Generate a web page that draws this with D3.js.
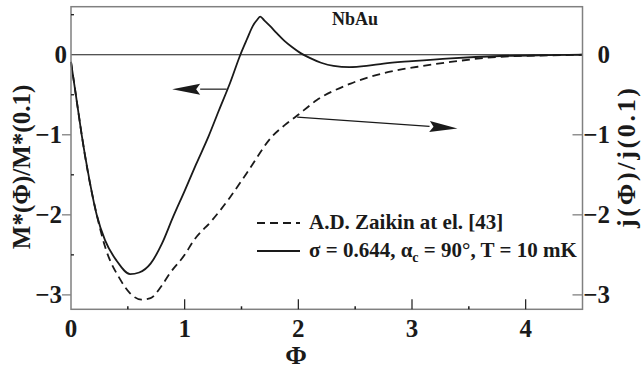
<!DOCTYPE html>
<html>
<head>
<meta charset="utf-8">
<script src="https://cdn.jsdelivr.net/npm/d3@7"></script>
<style>
  #chart text { font-family: "Liberation Serif"; }
</style>
</head>
<body style="margin:0">
<svg id="chart" width="643" height="371" style="font-family: 'Liberation Serif'"></svg>
<script>
// Flux values and normalized curves
const phiM = [0, 0.03, 0.06, 0.094, 0.15, 0.226, 0.3, 0.4, 0.52, 0.6, 0.7, 0.8, 0.9, 1.0, 1.1, 1.21, 1.3, 1.4, 1.49, 1.55, 1.6, 1.64, 1.665, 1.7, 1.75, 1.81, 1.88, 1.95, 2.02, 2.1, 2.2, 2.31, 2.45, 2.6, 2.75, 3.0, 3.34, 3.78, 4.2, 4.5];
const mStar = [-0.09, -0.38, -0.67, -1.0, -1.47, -2.0, -2.32, -2.57, -2.74, -2.72, -2.61, -2.36, -2.02, -1.7, -1.37, -1.02, -0.7, -0.35, 0.0, 0.2, 0.36, 0.44, 0.475, 0.43, 0.36, 0.27, 0.17, 0.09, 0.02, -0.04, -0.1, -0.14, -0.155, -0.14, -0.11, -0.08, -0.045, -0.016, -0.005, 0.0];

const phiJ = [0, 0.03, 0.06, 0.094, 0.15, 0.23, 0.3, 0.43, 0.52, 0.62, 0.7, 0.8, 0.87, 1.0, 1.08, 1.24, 1.4, 1.55, 1.77, 1.88, 1.99, 2.16, 2.46, 2.75, 3.05, 3.34, 3.78, 4.2, 4.5];
const jVal = [-0.09, -0.38, -0.67, -1.0, -1.48, -2.02, -2.4, -2.8, -2.98, -3.06, -3.04, -2.88, -2.73, -2.5, -2.32, -2.07, -1.78, -1.47, -1.02, -0.88, -0.76, -0.57, -0.36, -0.23, -0.15, -0.09, -0.025, -0.008, 0.0];

const xTicks = [0, 1, 2, 3, 4];
const xMinor = [0.5, 1.5, 2.5, 3.5];
const yTicks = [0, -1, -2, -3];
const yMinor = [0.5, -0.5, -1.5, -2.5];

const legendLabels = ["A.D. Zaikin at el. [43]", "σ = 0.644, α", "c", " = 90°, T = 10 mK"];

// Annotation arrows: [from, to] in data units
const arrowLeft = [[1.37, -0.43], [0.89, -0.43]];
const arrowRight = [[1.99, -0.78], [3.40, -0.92]];

const svg = d3.select("#chart");
const x = d3.scaleLinear().domain([0, 4.5]).range([71, 582.5]);
const y = d3.scaleLinear().domain([-3.18, 0.6]).range([309.3, 6.7]);

const frame = "#808080";
const ink = "#1a1a1a";

function label(sel, size) {
  return sel.attr("font-size", size).attr("font-weight", "bold")
    .attr("fill", ink).style("font-family", '"Liberation Serif"');
}

// zero line
svg.append("line")
  .attr("x1", x(0)).attr("x2", x(4.5))
  .attr("y1", y(0)).attr("y2", y(0))
  .attr("stroke", ink).attr("stroke-width", 1.1);

// curves
const lineM = d3.line().x((d, i) => x(phiM[i])).y(d => y(d)).curve(d3.curveMonotoneX);
const lineJ = d3.line().x((d, i) => x(phiJ[i])).y(d => y(d)).curve(d3.curveMonotoneX);

svg.append("path").attr("d", lineJ(jVal))
  .attr("fill", "none").attr("stroke", ink).attr("stroke-width", 1.8)
  .attr("stroke-dasharray", "8,5");
svg.append("path").attr("d", lineM(mStar))
  .attr("fill", "none").attr("stroke", ink).attr("stroke-width", 1.8);

// frame
svg.append("rect")
  .attr("x", x(0)).attr("y", y(0.6))
  .attr("width", x(4.5) - x(0)).attr("height", y(-3.18) - y(0.6))
  .attr("fill", "none").attr("stroke", frame).attr("stroke-width", 1.5);

// x ticks (inward) and labels
svg.selectAll(".xt").data(xTicks.filter(d => d > 0)).join("line")
  .attr("x1", d => x(d)).attr("x2", d => x(d))
  .attr("y1", y(-3.18)).attr("y2", y(-3.18) - 10)
  .attr("stroke", ink).attr("stroke-width", 1.2);
svg.selectAll(".xm").data(xMinor).join("line")
  .attr("x1", d => x(d)).attr("x2", d => x(d))
  .attr("y1", y(-3.18)).attr("y2", y(-3.18) - 3)
  .attr("stroke", ink).attr("stroke-width", 1.5);
label(svg.selectAll(".xl").data(xTicks).join("text"), 25)
  .attr("x", d => x(d)).attr("y", 337)
  .attr("text-anchor", "middle")
  .text(d => d);

// left y ticks and labels
svg.selectAll(".yt").data(yTicks.filter(d => d < 0)).join("line")
  .attr("x1", x(0) - 9).attr("x2", x(0))
  .attr("y1", d => y(d)).attr("y2", d => y(d))
  .attr("stroke", frame).attr("stroke-width", 1.3);
svg.selectAll(".ym").data(yMinor).join("line")
  .attr("x1", x(0)).attr("x2", x(0) + 3)
  .attr("y1", d => y(d)).attr("y2", d => y(d))
  .attr("stroke", ink).attr("stroke-width", 1.3);
label(svg.selectAll(".yl").data(yTicks).join("text"), 25)
  .attr("x", d => d === 0 ? 67 : 62).attr("y", d => y(d) + 8.5)
  .attr("text-anchor", "end")
  .text(d => d === 0 ? "0" : "\u2212" + Math.abs(d));

// right y ticks (inward) and labels
svg.selectAll(".rt").data(yTicks.filter(d => d < 0)).join("line")
  .attr("x1", x(4.5) - 10).attr("x2", x(4.5))
  .attr("y1", d => y(d)).attr("y2", d => y(d))
  .attr("stroke", frame).attr("stroke-width", 1.3);
label(svg.selectAll(".rl").data(yTicks).join("text"), 25)
  .attr("x", 610).attr("y", d => y(d) + 8.5)
  .attr("text-anchor", "end")
  .text(d => d === 0 ? "0" : "\u2212" + Math.abs(d));

// axis titles
label(svg.append("text"), 25)
  .attr("transform", "translate(30,167) rotate(-90)")
  .attr("text-anchor", "middle")
  .text("M*(Φ)/M*(0.1)");
label(svg.append("text"), 26)
  .attr("transform", "translate(635,158) rotate(-90)")
  .attr("text-anchor", "middle")
  .attr("textLength", 140).attr("lengthAdjust", "spacing")
  .text("j(Φ)/j(0.1)");
label(svg.append("text"), 26)
  .attr("x", x(1.98)).attr("y", 364)
  .attr("text-anchor", "middle")
  .text("Φ");

// panel title
label(svg.append("text"), 18)
  .attr("x", 355).attr("y", 25)
  .attr("text-anchor", "middle")
  .text("NbAu");

// legend
svg.append("line").attr("x1", 257).attr("x2", 300).attr("y1", 223).attr("y2", 223)
  .attr("stroke", ink).attr("stroke-width", 1.8).attr("stroke-dasharray", "8,5");
svg.append("line").attr("x1", 257).attr("x2", 300).attr("y1", 251).attr("y2", 251)
  .attr("stroke", ink).attr("stroke-width", 1.8);
label(svg.append("text"), 21).attr("x", 309).attr("y", 229)
  .text(legendLabels[0]);
const lt = label(svg.append("text"), 21).attr("x", 309).attr("y", 257);
lt.append("tspan").text(legendLabels[1]);
lt.append("tspan").attr("font-size", 14).attr("dy", 5).text(legendLabels[2]);
lt.append("tspan").attr("dy", -5).text(legendLabels[3]);

// arrows
function arrow(seg) {
  const [p0, p1] = seg;
  const x0 = x(p0[0]), y0 = y(p0[1]), x1 = x(p1[0]), y1 = y(p1[1]);
  const ang = Math.atan2(y1 - y0, x1 - x0);
  const L = 28, W = 5.5;
  const bx = x1 - L * Math.cos(ang), by = y1 - L * Math.sin(ang);
  svg.append("line").attr("x1", x0).attr("y1", y0).attr("x2", bx).attr("y2", by)
    .attr("stroke", ink).attr("stroke-width", 1.2);
  const nx = -Math.sin(ang) * W, ny = Math.cos(ang) * W;
  svg.append("path")
    .attr("d", `M${x1},${y1}L${bx + nx},${by + ny}L${bx + 4 * Math.cos(ang)},${by + 4 * Math.sin(ang)}L${bx - nx},${by - ny}Z`)
    .attr("fill", ink);
}
arrow(arrowLeft);
arrow(arrowRight);
</script>
</body>
</html>
